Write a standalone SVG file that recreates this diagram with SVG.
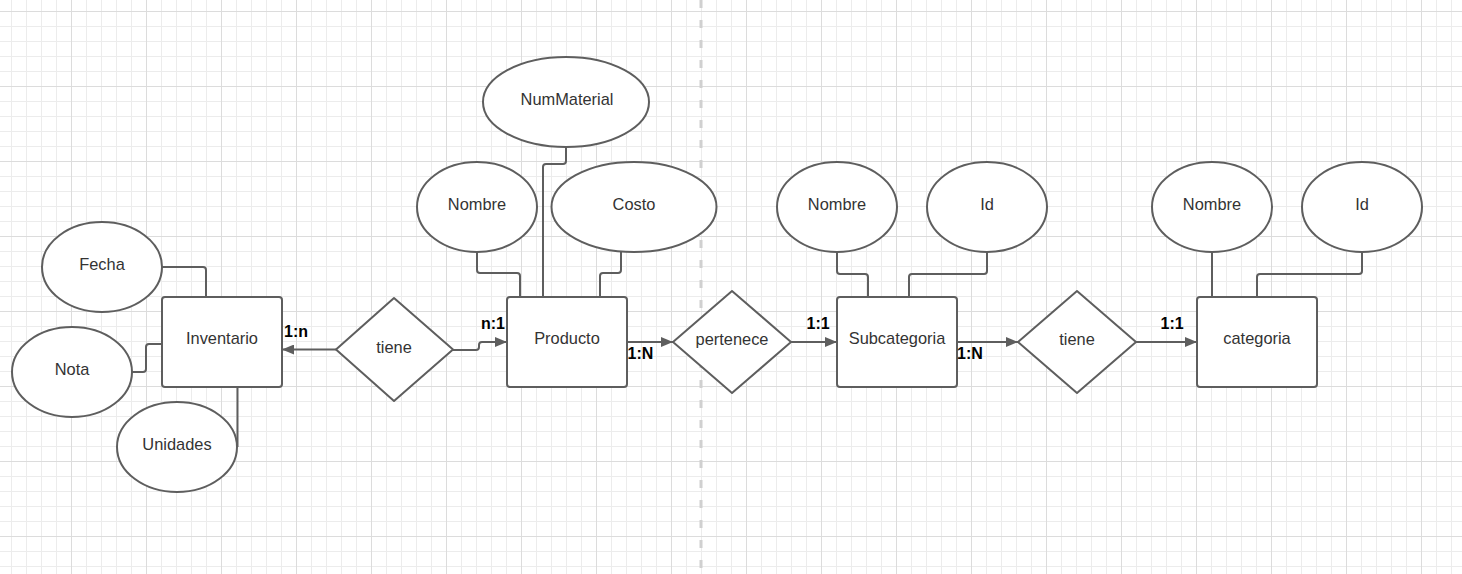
<svg xmlns="http://www.w3.org/2000/svg" width="1462" height="574" viewBox="0 0 1462 574">
<defs>
<pattern id="minor" patternUnits="userSpaceOnUse" x="11" y="11" width="15" height="15">
<path d="M0.5,0 V15 M0,0.5 H15" stroke="#ececec" stroke-width="1" fill="none"/>
</pattern>
<pattern id="major" patternUnits="userSpaceOnUse" x="71" y="11" width="75" height="75">
<path d="M0.5,0 V75 M0,0.5 H75" stroke="#dcdcdc" stroke-width="1" fill="none"/>
</pattern>
<marker id="arr" viewBox="0 0 12 10" refX="12" refY="5" markerWidth="12" markerHeight="10" markerUnits="userSpaceOnUse" orient="auto">
<path d="M0,0 L12,5 L0,10 z" fill="#5e5e5e"/>
</marker>
<style>
.shape{fill:#ffffff;stroke:#5e5e5e;stroke-width:2}
.lbl{font-family:"Liberation Sans",Arial,sans-serif;font-size:16.4px;fill:#333333;text-anchor:middle}
.card{font-family:"Liberation Sans",Arial,sans-serif;font-size:16px;font-weight:bold;fill:#000000}
.conn{fill:none;stroke:#5e5e5e;stroke-width:2;stroke-linejoin:round}
</style>
</defs>
<rect x="0" y="0" width="1462" height="574" fill="#ffffff"/>
<rect x="0" y="0" width="1462" height="574" fill="url(#minor)"/>
<rect x="0" y="0" width="1462" height="574" fill="url(#major)"/>
<line x1="701" y1="0" x2="701" y2="574" stroke="#d0d0d0" stroke-width="3" stroke-dasharray="8 12"/>

<g id="connectors">
<path class="conn" d="M162,267 H203 Q206,267 206,270 V297"/>
<path class="conn" d="M132,372 H143 Q146,372 146,369 V347 Q146,344 149,344 H162"/>
<path class="conn" d="M237.5,387 V447"/>
<path class="conn" d="M336,349.5 H282" marker-end="url(#arr)"/>
<path class="conn" d="M453,350 H476 Q479,350 479,347 V345 Q479,342 482,342 H507" marker-end="url(#arr)"/>
<path class="conn" d="M477,252 V270 Q477,273 480,273 H517 Q520,273 520,276 V297"/>
<path class="conn" d="M566,147 V161 Q566,164 563,164 H546 Q543,164 543,167 V297"/>
<path class="conn" d="M621,252 V270 Q621,273 618,273 H603 Q600,273 600,276 V297"/>
<path class="conn" d="M627,342 H673" marker-end="url(#arr)"/>
<path class="conn" d="M791,342 H837" marker-end="url(#arr)"/>
<path class="conn" d="M837,252 V271 Q837,274 840,274 H865 Q868,274 868,277 V297"/>
<path class="conn" d="M987,252 V271 Q987,274 984,274 H912 Q909,274 909,277 V297"/>
<path class="conn" d="M957,342 H1018" marker-end="url(#arr)"/>
<path class="conn" d="M1136,342 H1197" marker-end="url(#arr)"/>
<path class="conn" d="M1212,252 V297"/>
<path class="conn" d="M1362,252 V271 Q1362,274 1359,274 H1260 Q1257,274 1257,277 V297"/>
</g>

<g id="inventario">
<rect class="shape" x="162" y="297" width="120" height="90" rx="3"/>
<text class="lbl" x="222" y="344">Inventario</text>
</g>
<g id="fecha">
<ellipse class="shape" cx="102" cy="267" rx="60" ry="45"/>
<text class="lbl" x="102" y="269.5">Fecha</text>
</g>
<g id="nota">
<ellipse class="shape" cx="72" cy="372" rx="60" ry="45"/>
<text class="lbl" x="72" y="374.5">Nota</text>
</g>
<g id="unidades">
<ellipse class="shape" cx="177" cy="447" rx="60" ry="45"/>
<text class="lbl" x="177" y="449.5">Unidades</text>
</g>
<g id="tiene1">
<path class="shape" d="M394,298 L453,349.5 L394,401 L336,349.5 Z" stroke-linejoin="round"/>
<text class="lbl" x="394" y="353">tiene</text>
</g>
<g id="producto">
<rect class="shape" x="507" y="297" width="120" height="90" rx="3"/>
<text class="lbl" x="567" y="344">Producto</text>
</g>
<g id="nombre-producto">
<ellipse class="shape" cx="477" cy="207" rx="60" ry="45"/>
<text class="lbl" x="477" y="209.5">Nombre</text>
</g>
<g id="nummaterial">
<ellipse class="shape" cx="566" cy="102" rx="83" ry="45"/>
<text class="lbl" x="567" y="104.5">NumMaterial</text>
</g>
<g id="costo">
<ellipse class="shape" cx="634" cy="207" rx="82.5" ry="45"/>
<text class="lbl" x="634" y="209.5">Costo</text>
</g>
<g id="pertenece">
<path class="shape" d="M732,291 L791,342 L732,393 L673,342 Z" stroke-linejoin="round"/>
<text class="lbl" x="732" y="345">pertenece</text>
</g>
<g id="subcategoria">
<rect class="shape" x="837" y="297" width="120" height="90" rx="3"/>
<text class="lbl" x="897" y="344">Subcategoria</text>
</g>
<g id="nombre-sub">
<ellipse class="shape" cx="837" cy="207" rx="60" ry="45"/>
<text class="lbl" x="837" y="209.5">Nombre</text>
</g>
<g id="id-sub">
<ellipse class="shape" cx="987" cy="207" rx="60" ry="45"/>
<text class="lbl" x="987" y="209.5">Id</text>
</g>
<g id="tiene2">
<path class="shape" d="M1077,291 L1136,342 L1077,393 L1018,342 Z" stroke-linejoin="round"/>
<text class="lbl" x="1077" y="345">tiene</text>
</g>
<g id="categoria">
<rect class="shape" x="1197" y="297" width="120" height="90" rx="3"/>
<text class="lbl" x="1257" y="344">categoria</text>
</g>
<g id="nombre-cat">
<ellipse class="shape" cx="1212" cy="207" rx="60" ry="45"/>
<text class="lbl" x="1212" y="209.5">Nombre</text>
</g>
<g id="id-cat">
<ellipse class="shape" cx="1362" cy="207" rx="60" ry="45"/>
<text class="lbl" x="1362" y="209.5">Id</text>
</g>

<g id="cardinalities">
<text class="card" x="284" y="336.5">1:n</text>
<text class="card" x="481" y="329">n:1</text>
<text class="card" x="627.5" y="359">1:N</text>
<text class="card" x="806.5" y="329">1:1</text>
<text class="card" x="957" y="359">1:N</text>
<text class="card" x="1160.5" y="328.5">1:1</text>
</g>
</svg>
